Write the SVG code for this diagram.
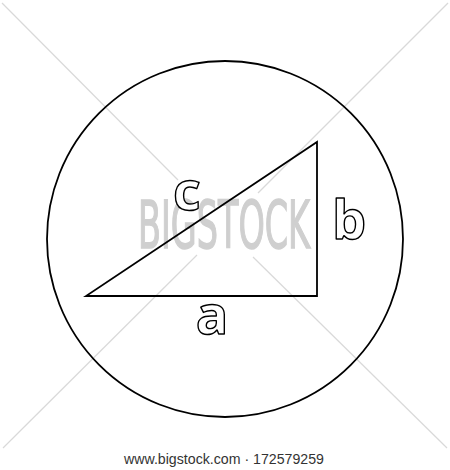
<svg xmlns="http://www.w3.org/2000/svg" width="450" height="470" viewBox="0 0 450 470">
<style>
.wm{stroke:#d9d9d9;stroke-width:1.2;fill:none}
.shape{fill:none;stroke:#000;stroke-width:1.8;stroke-linejoin:miter}
.lbl{font-family:"Open Sans","Noto Sans",sans-serif;font-weight:700;font-size:54px;fill:#fff;stroke:#000;stroke-width:1.4;stroke-linejoin:round;text-anchor:middle}
</style>
<rect width="450" height="470" fill="#fff"/>
<g id="watermark">
<line class="wm" x1="2" y1="3" x2="178" y2="180"/>
<line class="wm" x1="448" y1="3" x2="258" y2="193"/>
<line class="wm" x1="197" y1="255" x2="3" y2="448"/>
<line class="wm" x1="253" y1="257" x2="447" y2="448"/>
<text x="138" y="248" textLength="172" lengthAdjust="spacingAndGlyphs" font-family="'Liberation Sans Narrow','DejaVu Sans Condensed',sans-serif" font-size="66" fill="#cfcfcf" stroke="#cfcfcf" stroke-width="1.5">BIGSTOCK</text>
</g>
<g id="circle"><circle class="shape" cx="225" cy="239" r="178"/></g>
<g id="triangle"><polygon class="shape" points="86,296 317,296 317,142"/></g>
<g id="label-c"><text class="lbl" x="187" y="210">c</text></g>
<g id="label-b"><text class="lbl" x="349" y="239">b</text></g>
<g id="label-a"><text class="lbl" x="212" y="334">a</text></g>
<g id="footer"><text x="124" y="464" textLength="200" lengthAdjust="spacingAndGlyphs" font-family="'Liberation Sans',Arial,sans-serif" font-size="15" fill="#333">www.bigstock.com · 172579259</text></g>
</svg>
